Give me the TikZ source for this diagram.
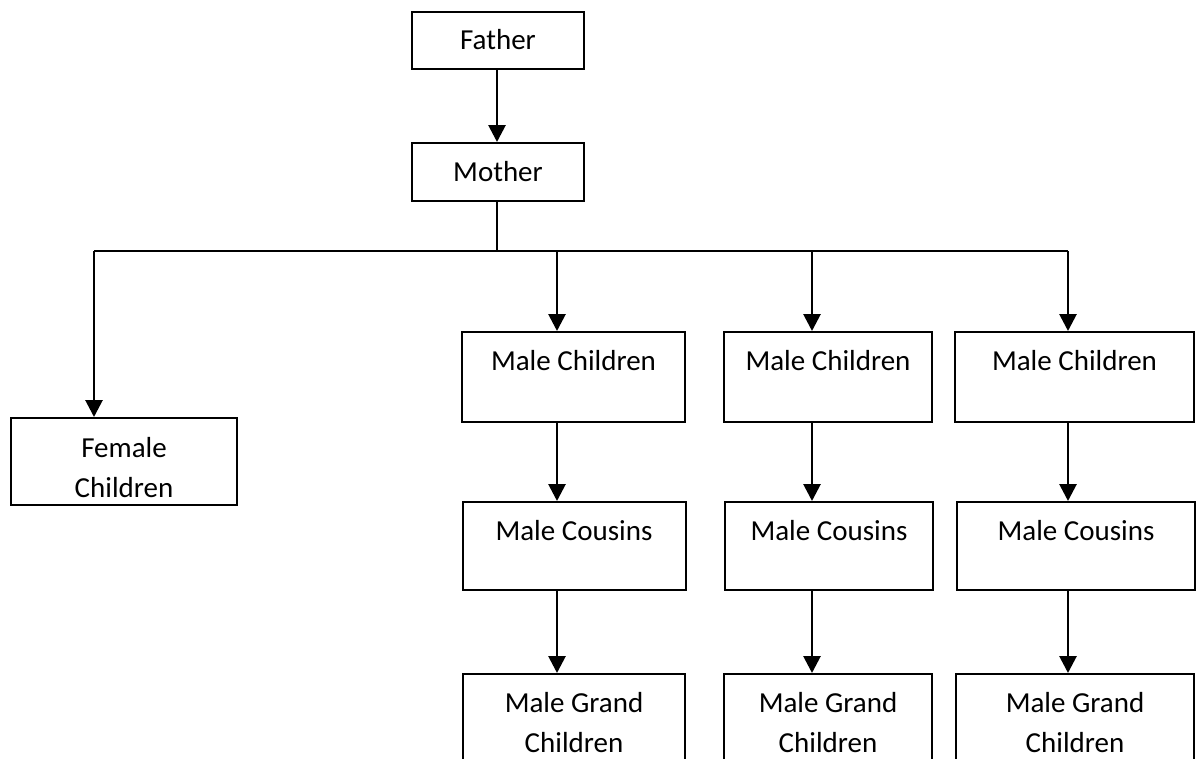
\documentclass[tikz,border=0pt]{standalone}
\usepackage{fontspec}
\setmainfont{Carlito}
\usetikzlibrary{arrows.meta}
\begin{document}
\begin{tikzpicture}[x=1pt,y=-1pt,
  box/.style={draw, line width=2pt, fill=white, inner sep=0pt},
  lbl/.style={font=\fontsize{29}{40}\selectfont, align=center, inner sep=0pt, anchor=base},
  arr/.style={line width=2.8pt, -{Triangle[length=17pt,width=17pt]}},
  ln/.style={line width=2pt}]
\useasboundingbox (0,0) rectangle (1197,758);
\clip (0,0) rectangle (1197,758);
% boxes
\node[box, minimum width=172pt, minimum height=57pt] (father) at (498,40.5) {};
\node[box, minimum width=172pt, minimum height=58pt] (mother) at (498,172) {};
\node[box, minimum width=226pt, minimum height=87pt] (female) at (124,461.5) {};
\node[box, minimum width=223pt, minimum height=90pt] (mc1) at (573.5,377) {};
\node[box, minimum width=208pt, minimum height=90pt] (mc2) at (828,377) {};
\node[box, minimum width=239pt, minimum height=90pt] (mc3) at (1074.5,377) {};
\node[box, minimum width=223pt, minimum height=88pt] (cz1) at (574,546) {};
\node[box, minimum width=208pt, minimum height=88pt] (cz2) at (829,546) {};
\node[box, minimum width=238pt, minimum height=88pt] (cz3) at (1076,546) {};
\node[box, minimum width=222pt, minimum height=126pt] (gc1) at (574,737) {};
\node[box, minimum width=208pt, minimum height=126pt] (gc2) at (828,737) {};
\node[box, minimum width=238pt, minimum height=126pt] (gc3) at (1075,737) {};
% texts
\node[lbl] (tfather) at ([yshift=-38pt]father.north) {Father};
\node[lbl] (tmother) at ([yshift=-39pt]mother.north) {Mother};
\node[lbl] (tfemale) at ([yshift=-80pt]female.north) {Female\\Children};
\node[lbl] (tmc1) at ([yshift=-39pt]mc1.north) {Male Children};
\node[lbl] (tmc2) at ([yshift=-39pt]mc2.north) {Male Children};
\node[lbl] (tmc3) at ([yshift=-39pt]mc3.north) {Male Children};
\node[lbl] (tcz1) at ([yshift=-39pt]cz1.north) {Male Cousins};
\node[lbl] (tcz2) at ([yshift=-39pt]cz2.north) {Male Cousins};
\node[lbl] (tcz3) at ([yshift=-39pt]cz3.north) {Male Cousins};
\node[lbl] (tgc1) at ([yshift=-79pt]gc1.north) {Male Grand\\Children};
\node[lbl] (tgc2) at ([yshift=-79pt]gc2.north) {Male Grand\\Children};
\node[lbl] (tgc3) at ([yshift=-79pt]gc3.north) {Male Grand\\Children};
% connector points
\coordinate (j) at (497,251);
\coordinate (hl) at (94,251);
\coordinate (k1) at (557,251);
\coordinate (k2) at (812,251);
\coordinate (k3) at (1068,251);
% connectors
\draw[arr] (father.south -| j) -- (mother.north -| j);
\draw[ln] (mother.south -| j) -- (j);
\draw[ln] (hl) -- (k3);
\draw[arr] (hl) -- (hl |- female.north);
\draw[arr] (k1) -- (k1 |- mc1.north);
\draw[arr] (k2) -- (k2 |- mc2.north);
\draw[arr] (k3) -- (k3 |- mc3.north);
\draw[arr] (k1 |- mc1.south) -- (k1 |- cz1.north);
\draw[arr] (k2 |- mc2.south) -- (k2 |- cz2.north);
\draw[arr] (k3 |- mc3.south) -- (k3 |- cz3.north);
\draw[arr] (k1 |- cz1.south) -- (k1 |- gc1.north);
\draw[arr] (k2 |- cz2.south) -- (k2 |- gc2.north);
\draw[arr] (k3 |- cz3.south) -- (k3 |- gc3.north);
\end{tikzpicture}
\end{document}
